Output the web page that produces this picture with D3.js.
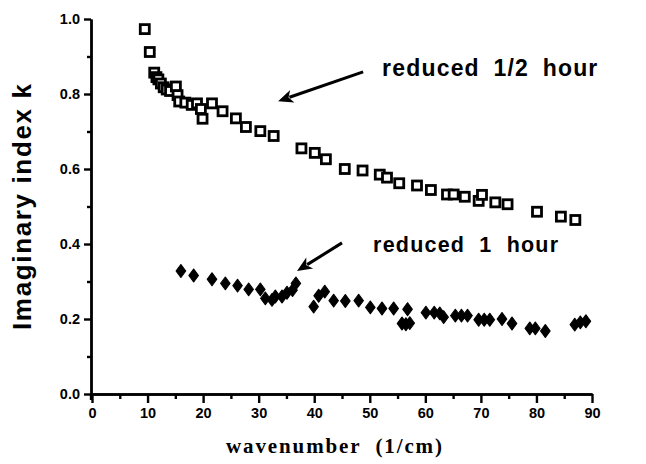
<!DOCTYPE html>
<html><head><meta charset="utf-8">
<script src="https://cdn.jsdelivr.net/npm/d3@7"></script>
<style>body{margin:0;background:#fff}</style>
</head><body><svg id="c" width="646" height="464"></svg>
<script>
// reduced 1/2 hour (open squares)
const halfHourX = [9.5,10.4,11.2,11.6,11.95,12.4,12.9,13.45,14.05,15.1,15.4,15.7,16.8,17.95,18.9,19.6,19.9,21.6,23.5,25.9,27.7,30.3,32.7,37.7,40.1,42.1,45.5,48.7,51.8,53.1,55.3,58.5,61.0,63.9,65.1,67.1,69.6,70.2,72.6,74.8,80.1,84.4,87.0];
const halfHourK = [0.973,0.912,0.857,0.845,0.839,0.828,0.818,0.812,0.808,0.820,0.797,0.780,0.777,0.771,0.775,0.760,0.734,0.775,0.754,0.735,0.712,0.701,0.688,0.655,0.643,0.626,0.600,0.596,0.585,0.577,0.562,0.556,0.544,0.532,0.532,0.526,0.515,0.531,0.511,0.506,0.486,0.473,0.464];
// reduced 1 hour (filled diamonds)
const oneHourX = [16.0,18.3,21.6,24.0,26.2,28.2,30.3,31.2,32.4,33.0,34.2,35.1,36.1,36.7,39.9,40.8,41.9,43.5,45.6,48.0,50.1,52.2,54.3,55.8,56.5,57.2,56.8,60.1,61.6,62.6,63.3,65.4,66.5,67.6,69.6,70.6,71.6,73.8,75.6,78.8,79.8,81.6,86.9,87.9,88.9];
const oneHourK = [0.328,0.316,0.306,0.295,0.289,0.279,0.279,0.255,0.251,0.260,0.260,0.270,0.277,0.295,0.233,0.262,0.273,0.249,0.248,0.249,0.231,0.228,0.228,0.188,0.186,0.189,0.226,0.217,0.217,0.215,0.205,0.209,0.209,0.209,0.198,0.198,0.198,0.200,0.188,0.175,0.175,0.168,0.185,0.191,0.194];

const xMajor = [0,10,20,30,40,50,60,70,80,90];
const xMinor = [5,15,25,35,45,55,65,75,85];
const yMajor = [0.0,0.2,0.4,0.6,0.8,1.0];
const yMinor = [0.1,0.3,0.5,0.7,0.9];
const xTitle = "wavenumber  (1/cm)";
const yTitle = "Imaginary index k";
const labelHalf = "reduced 1/2 hour";
const labelOne = "reduced 1 hour";

const svg = d3.select("#c");
const x = d3.scaleLinear().domain([0,90]).range([92,592]);
const y = d3.scaleLinear().domain([0,1]).range([394,19]);
const sans = "'Liberation Sans', Arial, Helvetica, sans-serif";

// axes
const xAxis = d3.axisBottom(x).tickValues(xMajor).tickSize(9).tickFormat(d3.format("d")).tickSizeOuter(0).tickPadding(5);
const xAxisMinor = d3.axisBottom(x).tickValues(xMinor).tickSize(5).tickFormat("").tickSizeOuter(0);
const yAxis = d3.axisLeft(y).tickValues(yMajor).tickSize(7).tickFormat(d3.format(".1f")).tickSizeOuter(0).tickPadding(4);
const yAxisMinor = d3.axisLeft(y).tickValues(yMinor).tickSize(4).tickFormat("").tickSizeOuter(0);

function style(g){
  g.selectAll("path.domain").attr("stroke","#000").attr("stroke-width",2.4);
  g.selectAll(".tick line").attr("stroke","#000").attr("stroke-width",2.4);
  g.selectAll(".tick text").attr("fill","#000").attr("font-family",sans).attr("font-size",14.5).attr("font-weight","bold");
}
svg.append("g").attr("transform",`translate(0,${y(0)})`).call(xAxis).call(style);
svg.append("g").attr("transform",`translate(0,${y(0)})`).call(xAxisMinor).call(style);
svg.append("g").attr("transform",`translate(${x(0)-1},0)`).call(yAxis).call(style);
svg.append("g").attr("transform",`translate(${x(0)-1},0)`).call(yAxisMinor).call(style);
svg.append("line").attr("x1",x(0)-1).attr("x2",x(0)-1).attr("y1",y(0)).attr("y2",y(0)+6).attr("stroke","#000").attr("stroke-width",2.4);

// titles
svg.append("text").attr("x",334).attr("y",453).attr("text-anchor","middle")
  .attr("font-family","'Liberation Serif','Times New Roman',serif").attr("font-weight","bold").attr("font-size",21)
  .attr("textLength",216).attr("lengthAdjust","spacing")
  .style("white-space","pre").text(xTitle);
svg.append("text").attr("transform","translate(31,207) rotate(-90)").attr("text-anchor","middle")
  .attr("font-family",sans).attr("font-weight","bold").attr("font-size",26)
  .attr("textLength",246).attr("lengthAdjust","spacing").text(yTitle);

// data
const half = halfHourX.map((d,i)=>({x:d,k:halfHourK[i]}));
const one = oneHourX.map((d,i)=>({x:d,k:oneHourK[i]}));
svg.append("g").selectAll("rect").data(half).join("rect")
  .attr("x",d=>x(d.x)-4.5).attr("y",d=>y(d.k)-4.5).attr("width",9).attr("height",9)
  .attr("fill","#fff").attr("stroke","#000").attr("stroke-width",2.8);
const diamond = d3.symbol().type(d3.symbolDiamond).size(60);
svg.append("g").selectAll("path").data(one).join("path")
  .attr("transform",d=>`translate(${x(d.x)},${y(d.k)}) scale(1.15,0.9)`).attr("d",diamond)
  .attr("fill","#000").attr("stroke","#000").attr("stroke-width",1).attr("stroke-linejoin","round");

// annotations
svg.append("text").attr("x",x(52.2)).attr("y",y(0.848)).attr("font-family",sans).attr("font-weight","bold").attr("font-size",23)
  .style("letter-spacing","1.2px").style("word-spacing","6px").text(labelHalf);
svg.append("text").attr("x",x(50.6)).attr("y",y(0.379)).attr("font-family",sans).attr("font-weight","bold").attr("font-size",21.5)
  .style("letter-spacing","1.2px").style("word-spacing","7px").text(labelOne);

function arrow(x1,k1,x2,k2){
  const ax1=x(x1), ay1=y(k1), ax2=x(x2), ay2=y(k2);
  const ang=Math.atan2(ay2-ay1, ax2-ax1);
  const L=15, W=6.5;
  const bx=ax2-L*Math.cos(ang), by=ay2-L*Math.sin(ang);
  svg.append("line").attr("x1",ax1).attr("y1",ay1).attr("x2",bx+3*Math.cos(ang)).attr("y2",by+3*Math.sin(ang))
    .attr("stroke","#000").attr("stroke-width",3);
  const p=[[ax2,ay2],[bx-W*Math.sin(ang),by+W*Math.cos(ang)],[bx+4*Math.cos(ang),by+4*Math.sin(ang)],[bx+W*Math.sin(ang),by-W*Math.cos(ang)]];
  svg.append("polygon").attr("points",p.map(q=>q.join(",")).join(" ")).attr("fill","#000");
}
arrow(48.8,0.859,33.5,0.781);
arrow(45.0,0.403,36.9,0.328);
</script></body></html>
